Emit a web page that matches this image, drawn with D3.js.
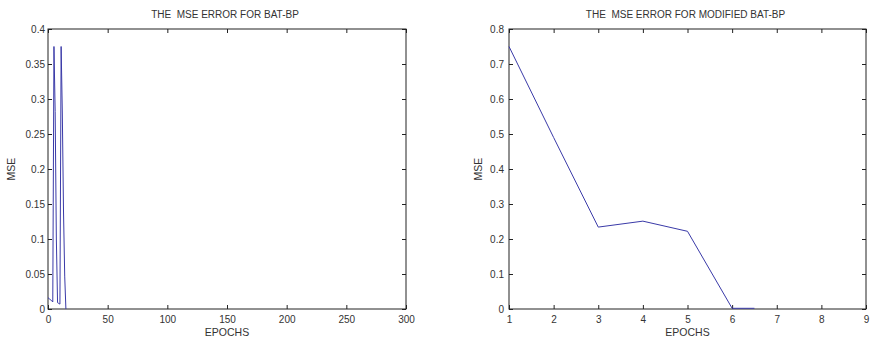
<!DOCTYPE html>
<html><head><meta charset="utf-8">
<script src="https://cdn.jsdelivr.net/npm/d3@7/dist/d3.min.js"></script>
<style>
body{margin:0;background:#fff;}
text{font-family:"Liberation Sans",Arial,sans-serif;fill:#333;}
</style></head><body>
<svg id="c" width="870" height="340"></svg>
<script>
// Left chart: BAT-BP
const batEpochs = [0,1,2,3,4,5,6,7,8,9,10,11,12,13,14,15];
const batMSE    = [0.016,0.015,0.013,0.012,0.010,0.375,0.282,0.100,0.009,0.008,0.007,0.375,0.280,0.140,0.047,0];
const batXTicks = [0,50,100,150,200,250,300];
const batYTicks = [0,0.05,0.1,0.15,0.2,0.25,0.3,0.35,0.4];
// Right chart: Modified BAT-BP
const modEpochs = [1,2,3,4,5,6,6.5];
const modMSE    = [0.75,0.49,0.234,0.251,0.222,0.002,0.002];
const modXTicks = [1,2,3,4,5,6,7,8,9];
const modYTicks = [0,0.1,0.2,0.3,0.4,0.5,0.6,0.7,0.8];

const svg = d3.select("#c");

function panel(o){
  const g = svg.append("g");
  const x = d3.scaleLinear().domain(o.xd).range([o.x0,o.x1]);
  const y = d3.scaleLinear().domain(o.yd).range([o.yb,o.yt]);
  g.append("rect").attr("x",o.x0).attr("y",o.yt).attr("width",o.x1-o.x0).attr("height",o.yb-o.yt)
    .attr("fill","none").attr("stroke","#222").attr("stroke-width",1);
  const fmt = d=>String(d);
  const ax = (gen, tr)=>{
    const a = g.append("g").attr("transform",tr).call(gen);
    a.select(".domain").remove();
    a.selectAll("line").attr("stroke","#222");
    return a;
  };
  const b = ax(d3.axisBottom(x).tickValues(o.xt).tickFormat(fmt).tickSizeInner(-4).tickPadding(7), `translate(0,${o.yb})`);
  b.selectAll("text").attr("font-size",10).attr("fill","#333");
  ax(d3.axisTop(x).tickValues(o.xt).tickFormat("").tickSizeInner(-4), `translate(0,${o.yt})`);
  const l = ax(d3.axisLeft(y).tickValues(o.yt_).tickFormat(fmt).tickSizeInner(-4).tickPadding(o.pad), `translate(${o.x0},0)`);
  l.selectAll("text").attr("font-size",10).attr("fill","#333");
  ax(d3.axisRight(y).tickValues(o.yt_).tickFormat("").tickSizeInner(-4), `translate(${o.x1},0)`);
  svg.selectAll("g.tick text").attr("font-family","Liberation Sans, Arial, sans-serif");
  g.append("path").datum(o.xs.map((d,i)=>[d,o.ys[i]]))
    .attr("fill","none").attr("stroke","#3a3aa8").attr("stroke-width",1)
    .attr("d", d3.line().x(d=>x(d[0])).y(d=>y(d[1])));
  g.append("text").attr("x",(o.x0+o.x1)/2 - 2).attr("y",18).attr("text-anchor","middle")
    .attr("font-size",10).style("white-space","pre").text(o.title);
  g.append("text").attr("x",(o.x0+o.x1)/2).attr("y",336).attr("text-anchor","middle")
    .attr("font-size",10.5).text("EPOCHS");
  g.append("text").attr("transform",`translate(${o.mx},${(o.yt+o.yb)/2}) rotate(-90)`)
    .attr("text-anchor","middle").attr("font-size",10.5).text("MSE");
}

panel({x0:48,x1:406,yt:29,yb:309,xd:[0,300],yd:[0,0.4],xt:batXTicks,yt_:batYTicks,
  xs:batEpochs,ys:batMSE,title:"THE  MSE ERROR FOR BAT-BP",mx:15,pad:3});
panel({x0:509,x1:866,yt:29,yb:309,xd:[1,9],yd:[0,0.8],xt:modXTicks,yt_:modYTicks,
  xs:modEpochs,ys:modMSE,title:"THE  MSE ERROR FOR MODIFIED BAT-BP",mx:482,pad:5});
</script>
</body></html>
